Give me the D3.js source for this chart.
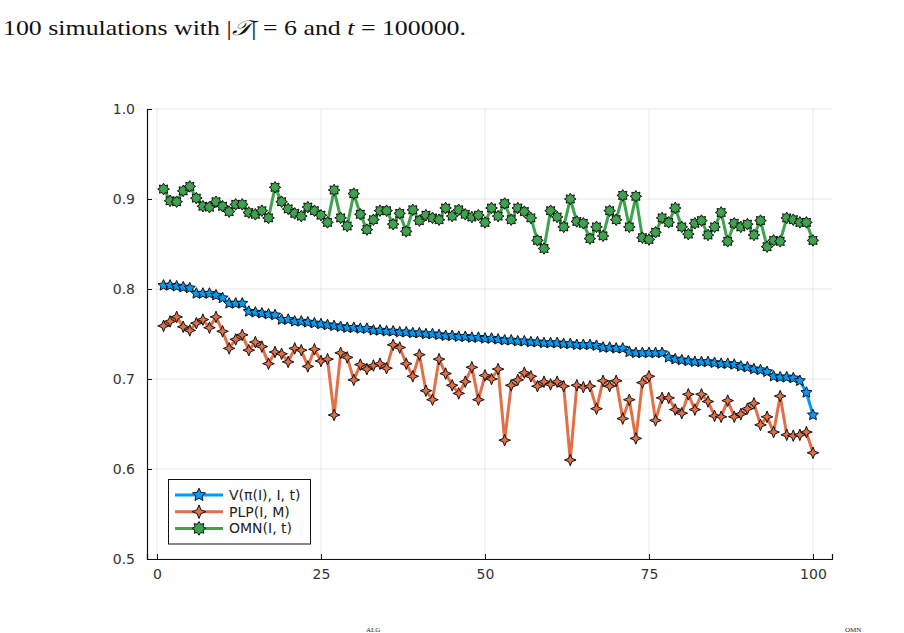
<!DOCTYPE html>
<html>
<head>
<meta charset="utf-8">
<script src="https://cdn.jsdelivr.net/npm/d3@7"></script>
<style>
  body { margin: 0; background: #fff; }
  svg { display: block; }
</style>
</head>
<body>
<div id="chart"></div>
<script>
// simulation index (1..100)
var sims = d3.range(1, 101);

var vals_V = [
  .804,.804,.803,.802,.801,.795,.795,.795,.793,.790,
  .784,.784,.784,.775,.774,.773,.772,.771,.766,.766,
  .764,.764,.763,.762,.761,.760,.759,.758,.757,.757,
  .756,.756,.754,.754,.753,.753,.752,.752,.751,.751,
  .750,.750,.749,.748,.748,.747,.747,.746,.746,.745,
  .745,.744,.743,.743,.742,.742,.741,.741,.740,.740,
  .740,.739,.739,.738,.738,.738,.737,.735,.735,.734,
  .734,.730,.729,.729,.729,.729,.729,.724,.722,.721,
  .720,.719,.719,.719,.718,.717,.717,.716,.714,.713,
  .711,.710,.708,.703,.702,.702,.701,.698,.685,.660
];
var vals_PLP = [
  .759,.764,.769,.758,.754,.762,.766,.757,.769,.753,
  .734,.744,.749,.732,.741,.736,.717,.730,.728,.719,
  .734,.732,.714,.733,.720,.722,.660,.729,.724,.699,
  .716,.711,.715,.717,.712,.738,.735,.717,.703,.727,
  .687,.677,.722,.706,.693,.684,.697,.713,.677,.704,
  .700,.711,.632,.693,.699,.707,.703,.692,.697,.694,
  .697,.692,.610,.693,.691,.692,.667,.698,.692,.698,
  .656,.677,.634,.696,.703,.654,.679,.679,.666,.662,
  .683,.666,.683,.675,.659,.658,.676,.658,.661,.667,
  .673,.649,.658,.641,.681,.638,.637,.638,.641,.618
];
var vals_OMN = [
  .911,.898,.897,.909,.914,.901,.892,.891,.897,.892,
  .886,.894,.894,.885,.883,.887,.879,.913,.897,.889,
  .884,.881,.891,.887,.882,.874,.910,.879,.870,.906,
  .883,.866,.877,.887,.887,.872,.884,.864,.888,.876,
  .882,.879,.877,.890,.881,.888,.883,.880,.882,.874,
  .890,.881,.895,.877,.890,.886,.879,.854,.845,.887,
  .880,.869,.900,.875,.873,.856,.869,.859,.887,.877,
  .904,.869,.903,.857,.855,.863,.879,.874,.890,.869,
  .861,.873,.876,.860,.869,.885,.853,.873,.869,.872,
  .860,.876,.847,.854,.853,.879,.877,.874,.874,.854
];

var xTicks = [0, 25, 50, 75, 100];
var yTicks = [0.5, 0.6, 0.7, 0.8, 0.9, 1.0];
var seriesNames = ["V(π(I), I, t)", "PLP(I, M)", "OMN(I, t)"];
var colors = ["#009af9", "#e26f46", "#3da44d"];

var W = 904, H = 633;
var svg = d3.select("#chart").append("svg")
    .attr("width", W).attr("height", H);

var x = d3.scaleLinear().domain([-1.52, 102.9]).range([147, 832]);
var y = d3.scaleLinear().domain([0.5, 1.0]).range([559, 109]);

// caption above figure
var cap = svg.append("text")
    .attr("x", 3).attr("y", 35)
    .attr("font-family", "'Liberation Serif', 'DejaVu Serif', serif")
    .attr("font-size", 21)
    .attr("fill", "#111")
    .attr("textLength", 463).attr("lengthAdjust", "spacingAndGlyphs");
cap.append("tspan").text("100 simulations with |");
cap.append("tspan").attr("font-style", "italic").text("𝒯");
cap.append("tspan").text("| = 6 and ");
cap.append("tspan").attr("font-style", "italic").text("t");
cap.append("tspan").text(" = 100000.");

// small superscripts of the next caption line
svg.append("text").attr("x", 366).attr("y", 632)
    .attr("font-family", "'Liberation Serif', serif").attr("font-size", 7)
    .attr("fill", "#222").text("ALG");
svg.append("text").attr("x", 845).attr("y", 632)
    .attr("font-family", "'Liberation Serif', serif").attr("font-size", 7)
    .attr("fill", "#222").text("OMN");

// grid
svg.append("g").selectAll("line").data(xTicks).enter().append("line")
    .attr("x1", d => x(d)).attr("x2", d => x(d))
    .attr("y1", 109).attr("y2", 559)
    .attr("stroke", "#000").attr("stroke-opacity", 0.09).attr("stroke-width", 1);
svg.append("g").selectAll("line").data(yTicks).enter().append("line")
    .attr("x1", 147).attr("x2", 832)
    .attr("y1", d => y(d)).attr("y2", d => y(d))
    .attr("stroke", "#000").attr("stroke-opacity", 0.09).attr("stroke-width", 1);

// axes
var xAxis = d3.axisBottom(x).tickValues(xTicks).tickSize(-5).tickPadding(10)
    .tickFormat(d3.format("d"));
var yAxis = d3.axisLeft(y).tickValues(yTicks).tickSize(-5).tickPadding(12)
    .tickFormat(d3.format(".1f"));

var gx = svg.append("g").attr("transform", "translate(0,559)").call(xAxis);
var gy = svg.append("g").attr("transform", "translate(147,0)").call(yAxis);
[gx, gy].forEach(function(g){
  g.select(".domain").attr("stroke", "#111").attr("stroke-width", 1.2);
  g.selectAll(".tick line").attr("stroke", "#111").attr("stroke-width", 1);
  g.selectAll(".tick text").attr("font-family", "'DejaVu Sans', sans-serif")
    .attr("font-size", 14).attr("fill", "#333");
});

// star marker shapes
function starPath(n, R, ratio) {
  var pts = [];
  for (var k = 0; k < 2 * n; k++) {
    pts.push([k * Math.PI / n, k % 2 ? R * ratio : R]);
  }
  return d3.lineRadial().curve(d3.curveLinearClosed)(pts);
}
var shapes = [
  function(R){ return starPath(5, R, 0.48); },
  function(R){ return starPath(4, R, 0.4); },
  function(R){ return starPath(8, R, 0.65); }
];

var allVals = [vals_V, vals_PLP, vals_OMN];
var line = d3.line().x((d, i) => x(sims[i])).y(d => y(d));

allVals.forEach(function(vals, s){
  var g = svg.append("g");
  g.append("path").datum(vals)
    .attr("d", line)
    .attr("fill", "none")
    .attr("stroke", colors[s])
    .attr("stroke-width", 3)
    .attr("stroke-linejoin", "round");
  g.selectAll("path.m").data(vals).enter().append("path")
    .attr("class", "m")
    .attr("d", shapes[s](5.8))
    .attr("transform", (d, i) => "translate(" + x(sims[i]) + "," + y(d) + ")")
    .attr("fill", colors[s])
    .attr("stroke", "#111")
    .attr("stroke-width", 1);
});

// legend
var lg = svg.append("g");
lg.append("rect")
  .attr("x", 168.5).attr("y", 479.5).attr("width", 142).attr("height", 64.5)
  .attr("fill", "#fff").attr("stroke", "#111").attr("stroke-width", 1);
seriesNames.forEach(function(name, s){
  var ly = 495 + s * 16.7;
  lg.append("line").attr("x1", 175).attr("x2", 223)
    .attr("y1", ly).attr("y2", ly)
    .attr("stroke", colors[s]).attr("stroke-width", 3);
  lg.append("path").attr("d", shapes[s](6.8))
    .attr("transform", "translate(199," + ly + ")")
    .attr("fill", colors[s]).attr("stroke", "#111").attr("stroke-width", 1);
  lg.append("text").attr("x", 229).attr("y", ly + 5)
    .attr("font-family", "'DejaVu Sans', sans-serif").attr("font-size", 14)
    .attr("fill", "#222").text(name);
});
</script>
</body>
</html>
